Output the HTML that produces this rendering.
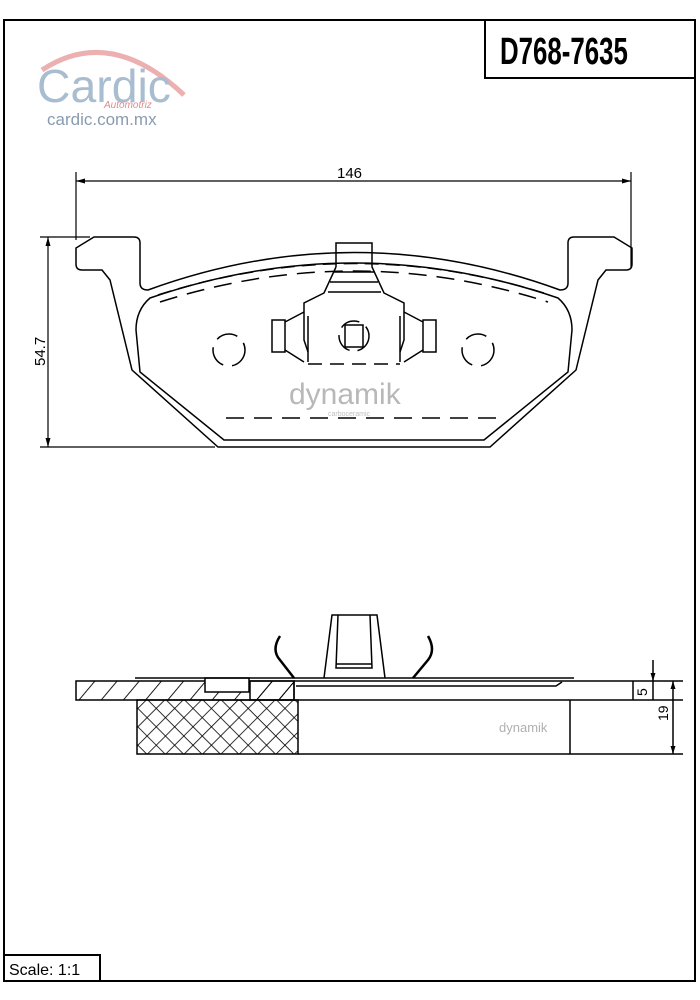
<!DOCTYPE html>
<html><head><meta charset="utf-8"><style>
html,body{margin:0;padding:0;background:#fff;width:700px;height:1000px;overflow:hidden}
svg{display:block}
text{font-family:"Liberation Sans",sans-serif}
</style></head><body>
<svg width="700" height="1000" viewBox="0 0 700 1000" xmlns="http://www.w3.org/2000/svg">
<defs>
<pattern id="hatch" width="17" height="17" patternUnits="userSpaceOnUse" patternTransform="rotate(40)">
<line x1="0" y1="0" x2="0" y2="17" stroke="#000" stroke-width="1.8"/></pattern>
<pattern id="cross" width="13" height="13" patternUnits="userSpaceOnUse" patternTransform="rotate(45)">
<line x1="0" y1="0" x2="0" y2="13" stroke="#000" stroke-width="1.6"/>
<line x1="0" y1="0" x2="13" y2="0" stroke="#000" stroke-width="1.6"/></pattern>
</defs>
<!-- frame -->
<rect x="4" y="20" width="691" height="961" fill="none" stroke="#000" stroke-width="2"/>
<rect x="485" y="20" width="210" height="58" fill="none" stroke="#000" stroke-width="2"/>
<text x="0" y="0" font-weight="bold" font-size="38" transform="translate(500,64) scale(0.68,1)">D768-7635</text>
<rect x="4" y="955" width="96" height="26" fill="none" stroke="#000" stroke-width="2"/>
<text x="9" y="975" font-size="16">Scale: 1:1</text>
<!-- logo -->
<path d="M42,70 Q110,25 184,95" fill="none" stroke="#ecb0b0" stroke-width="5"/>
<text x="37" y="102" font-size="46" fill="#a9bdd0" textLength="134" lengthAdjust="spacingAndGlyphs">Cardic</text>
<text x="104" y="108" font-size="10" font-style="italic" fill="#e08a8a" font-family="Liberation Serif,serif">Automotriz</text>
<text x="47" y="125" font-size="17" fill="#8a9bb0" font-family="Liberation Serif,serif">cardic.com.mx</text>
<!-- top view dims -->
<g stroke="#000" stroke-width="1.2" fill="none">
<line x1="76" y1="172" x2="76" y2="240"/>
<line x1="631" y1="172" x2="631" y2="268"/>
<line x1="76" y1="181" x2="631" y2="181"/>
<line x1="40" y1="237" x2="90" y2="237"/>
<line x1="40" y1="447" x2="215" y2="447"/>
<line x1="48" y1="237" x2="48" y2="447"/>
</g>
<path d="M76,181 l9,-2.5 v5z M631,181 l-9,-2.5 v5z M48,237 l-2.5,9 h5z M48,447 l-2.5,-9 h5z" fill="#000"/>
<text x="337" y="178" font-size="15">146</text>
<text x="0" y="0" font-size="15" transform="translate(45,366) rotate(-90)">54.7</text>
<!-- pad outline -->
<g stroke="#000" stroke-width="1.5" fill="none">
<path d="M94,237 H134 Q140,237 140,243 V283 Q140,290 148,290 Q354,215 560,290 Q568,290 568,283 V243 Q568,237 574,237 H614 L632,248 V264 Q632,270 626,270 H606 L598,280 L576,370 L490,447 H218 L132,370 L110,280 L102,270 H82 Q76,270 76,264 V248 Z"/>
<path d="M150,298 Q354,228 558,298 Q572,310 572,330 L568,372 L484,440 H224 L140,372 L136,330 Q136,310 150,298 Z"/>
<path d="M158,295 Q354,232 550,295" stroke-dasharray="14,7"/>
<path d="M160,302 Q354,240 548,302" stroke-dasharray="18,10"/>
<line x1="226" y1="418" x2="500" y2="418" stroke-dasharray="18,10"/>
<!-- tab -->
<path d="M336,267 V243 H372 V267 L384,293 L404,303 V340 L400,352 M336,267 L324,293 L304,303 V340 L308,352"/>
<line x1="333" y1="272" x2="375" y2="272"/><line x1="330" y1="282" x2="378" y2="282"/><line x1="328" y1="292" x2="381" y2="292"/>
<rect x="272" y="320" width="13" height="32"/><rect x="423" y="320" width="13" height="32"/>
<path d="M285,322 L304,312 M285,350 L304,362 M423,322 L404,312 M423,350 L404,362"/>
<line x1="308" y1="316" x2="308" y2="362"/><line x1="400" y1="316" x2="400" y2="362"/>
<line x1="308" y1="364" x2="400" y2="364" stroke-dasharray="14,8"/>
<rect x="345" y="325" width="18" height="22"/>
<circle cx="354" cy="336" r="15" stroke-dasharray="20,8"/>
<circle cx="229" cy="350" r="16" stroke-dasharray="22,9"/>
<circle cx="478" cy="350" r="16" stroke-dasharray="22,9"/>
</g>
<text x="289" y="404" font-size="30" fill="#b8b8b8">dynamik</text>
<text x="328" y="416" font-size="7" fill="#c0c0c0">carboceramic</text>
<!-- side view -->
<rect x="76" y="681" width="218" height="19" fill="url(#hatch)" stroke="#000" stroke-width="1.5"/>
<rect x="137" y="700" width="161" height="54" fill="url(#cross)" stroke="#000" stroke-width="1.5"/>
<rect x="205" y="678" width="44" height="14" fill="#fff" stroke="#000" stroke-width="1.5"/>
<rect x="250" y="681" width="44" height="19" fill="url(#hatch)" stroke="#000" stroke-width="1.5"/>
<g stroke="#000" stroke-width="1.5" fill="none">
<line x1="135" y1="678" x2="574" y2="678"/>
<line x1="294" y1="681" x2="683" y2="681"/>
<line x1="294" y1="700" x2="683" y2="700"/>
<line x1="298" y1="754" x2="683" y2="754"/>
<path d="M296,686 H556 L562,682"/>
<line x1="570" y1="700" x2="570" y2="754"/>
<line x1="633" y1="681" x2="633" y2="700"/>
<line x1="653" y1="660" x2="653" y2="700"/>
<line x1="673" y1="681" x2="673" y2="754"/>
<path d="M324,678 L332,615 H377 L385,678 M338,615 L336,668 H372 L370,615 M336,664 H372"/>
<path d="M280,636 Q271,650 280,660 L294,678 M428,636 Q436,650 428,660 L413,678" stroke-width="2.5"/>
</g>
<path d="M653,681 l-2.5,-8 h5z M673,681 l-2.5,8 h5z M673,754 l-2.5,-8 h5z" fill="#000"/>
<text x="0" y="0" font-size="14" transform="translate(647,696) rotate(-90)">5</text>
<text x="0" y="0" font-size="14" transform="translate(668,721) rotate(-90)">19</text>
<text x="499" y="732" font-size="13" fill="#b0b0b0">dynamik</text>
</svg>
</body></html>
